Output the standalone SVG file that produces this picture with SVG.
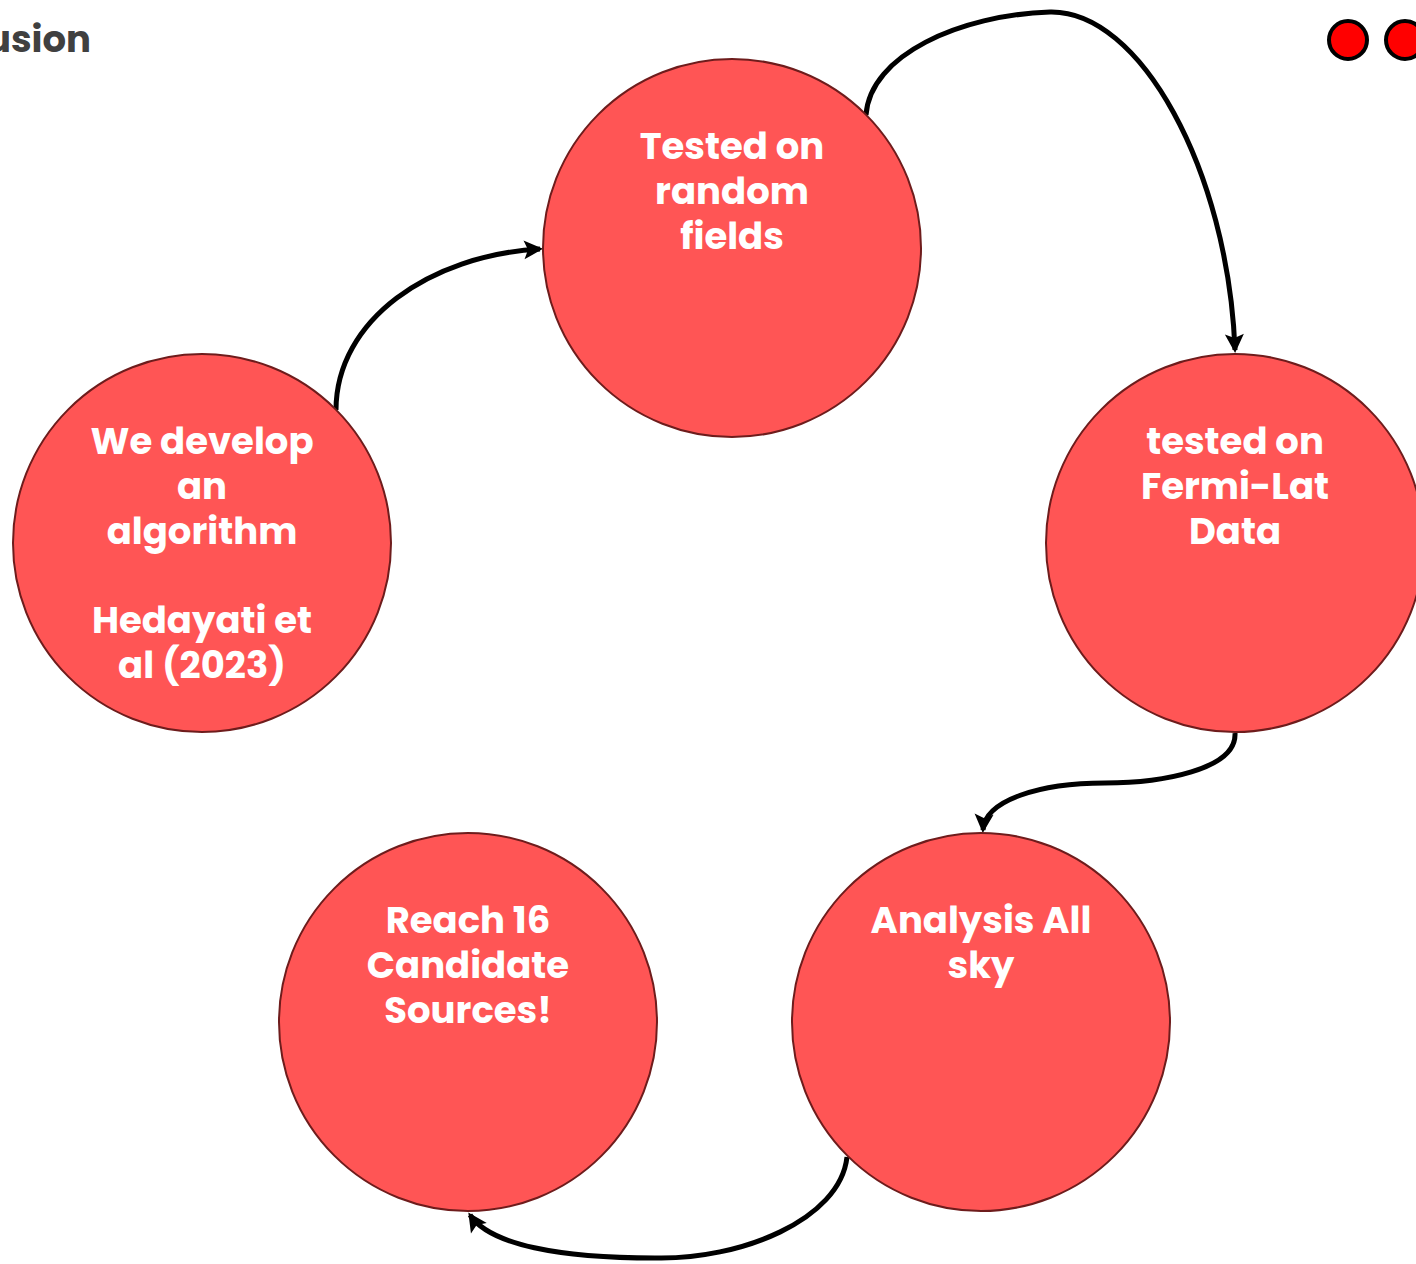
<svg xmlns="http://www.w3.org/2000/svg" width="1416" height="1264" viewBox="0 0 1416 1264">
<style>
.node{fill:#FF5555;stroke:#6E1C1C;stroke-width:2}
.lbl{font-family:Poppins,Inter,"Open Sans","Liberation Sans",sans-serif;font-weight:700;font-size:37px;fill:#FFFFFF;text-anchor:middle}
.edge{fill:none;stroke:#000;stroke-width:5;marker-end:url(#arr)}
.dot{fill:#FF0000;stroke:#000;stroke-width:4}
</style>
<defs>
<marker id="arr" markerWidth="4" markerHeight="4" refX="3.2" refY="1.9" orient="auto" markerUnits="strokeWidth" overflow="visible">
<path d="M0,0 L3.8,1.9 L0,3.8 L0.8,1.9 Z" fill="#000"/>
</marker>
</defs>
<rect width="1416" height="1264" fill="#FFFFFF"/>
<text x="91" y="52" text-anchor="end" font-family="Poppins,Inter,'Open Sans','Liberation Sans',sans-serif" font-weight="700" font-size="37" fill="#404040">Conclusion</text>
<circle class="dot" cx="1348" cy="40" r="19"/>
<circle class="dot" cx="1405" cy="40" r="19"/>
<g id="connectors">
<path class="edge" d="M336,410 C336,320 430,255 540,249"/>
<path class="edge" d="M866,115 C870,55 960,15 1050,12 C1140,10 1228,170 1235,350"/>
<path class="edge" d="M1235,733 C1237,770 1160,783 1105,783 C1040,783 985,800 983,830"/>
<path class="edge" d="M847,1157 C840,1220 740,1260 655,1258 C560,1258 490,1245 470,1215"/>
</g>
<g id="n-top">
<circle class="node" cx="732" cy="248" r="189"/>
<text class="lbl" x="732" y="159">Tested on</text>
<text class="lbl" x="732" y="204">random</text>
<text class="lbl" x="732" y="249">fields</text>
</g>
<g id="n-left">
<circle class="node" cx="202" cy="543" r="189"/>
<text class="lbl" x="202" y="454">We develop</text>
<text class="lbl" x="202" y="499">an</text>
<text class="lbl" x="202" y="544">algorithm</text>
<text class="lbl" x="202" y="633">Hedayati et</text>
<text class="lbl" x="202" y="678">al (2023)</text>
</g>
<g id="n-right">
<circle class="node" cx="1235" cy="543" r="189"/>
<text class="lbl" x="1235" y="454">tested on</text>
<text class="lbl" x="1235" y="499">Fermi-Lat</text>
<text class="lbl" x="1235" y="544">Data</text>
</g>
<g id="n-bottom-right">
<circle class="node" cx="981" cy="1022" r="189"/>
<text class="lbl" x="981" y="933">Analysis All</text>
<text class="lbl" x="981" y="978">sky</text>
</g>
<g id="n-bottom-left">
<circle class="node" cx="468" cy="1022" r="189"/>
<text class="lbl" x="468" y="933">Reach 16</text>
<text class="lbl" x="468" y="978">Candidate</text>
<text class="lbl" x="468" y="1023">Sources!</text>
</g>
</svg>
